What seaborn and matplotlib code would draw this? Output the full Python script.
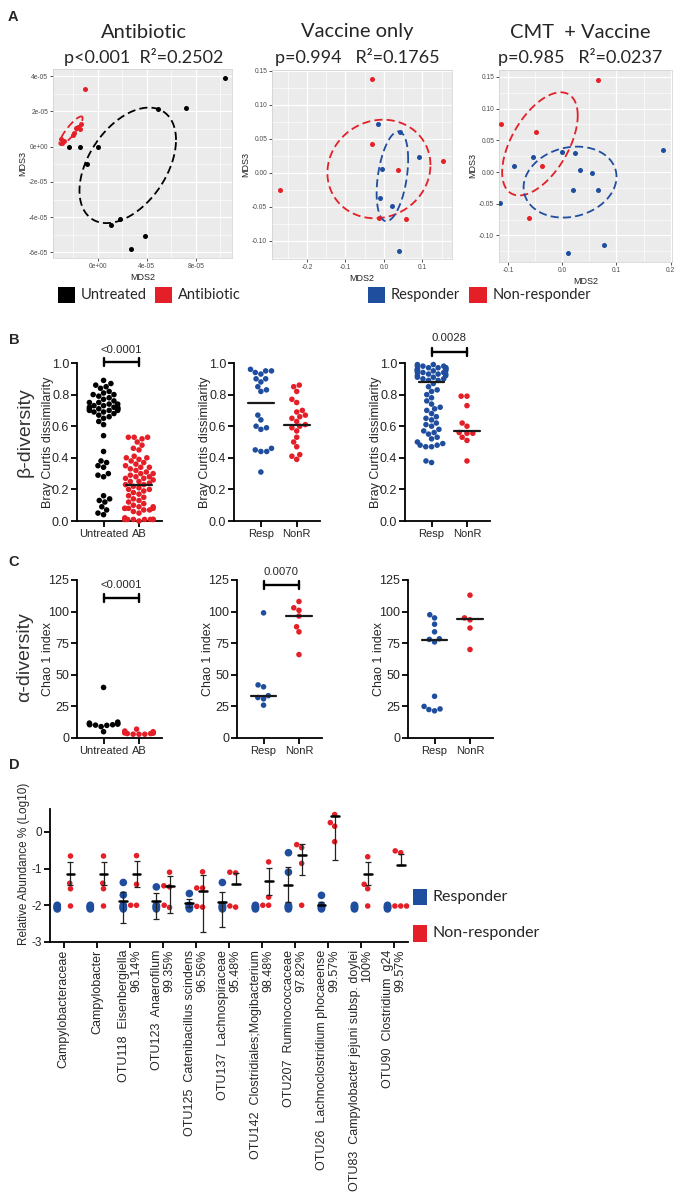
import numpy as np
import pandas as pd
import matplotlib
matplotlib.use("Agg")
import matplotlib.pyplot as plt
import seaborn as sns
from matplotlib.patches import Rectangle

BLACK = "#000000"
RED = "#E41F27"
BLUE = "#1F4E9F"

# ---------------- panel A : MDS ordinations ----------------
A1_untr_x = [1.04e-4, 4.93e-5, 7.18e-5, -2.31e-5, -1.47e-5, 0.0, -0.87e-5, 1.82e-5, 1.12e-5, 3.86e-5, 2.75e-5]
A1_untr_y = [3.92e-5, 2.15e-5, 2.19e-5, 0.0, 0.0, 0.0, -0.98e-5, -4.08e-5, -4.42e-5, -5.09e-5, -5.83e-5]
A1_ab_x = [-1.0e-5, -2.99e-5, -2.94e-5, -2.75e-5, -2.04e-5, -1.77e-5, -1.44e-5, -1.33e-5, -1.63e-5, -1.93e-5]
A1_ab_y = [3.25e-5, 0.42e-5, 0.23e-5, 0.34e-5, 0.66e-5, 1.08e-5, 0.98e-5, 1.28e-5, 1.13e-5, 0.75e-5]
# ellipse: centre x, centre y, half-extent x, half-extent y, correlation
A1_ell_untr = (2.45e-5, -1.06e-5, 3.94e-5, 3.28e-5, 0.44)
A1_ell_ab = (-2.18e-5, 0.91e-5, 0.95e-5, 0.81e-5, 0.88)

A2_nonr_x = [-0.030, -0.030, 0.036, 0.153, -0.271, -0.012, 0.057]
A2_nonr_y = [0.138, 0.042, 0.004, 0.017, -0.026, -0.066, -0.068]
A2_resp_x = [-0.016, 0.043, 0.091, -0.004, -0.010, 0.021, 0.038]
A2_resp_y = [0.071, 0.060, 0.023, 0.006, -0.037, -0.049, -0.115]
A2_ell_nonr = (-0.013, 0.0054, 0.134, 0.0725, 0.08)
A2_ell_resp = (0.022, -0.0054, 0.041, 0.066, 0.38)

A3_nonr_x = [0.0654, -0.1136, -0.0488, -0.037, -0.0623]
A3_nonr_y = [0.145, 0.076, 0.063, 0.0095, -0.0724]
A3_resp_x = [0.186, -0.089, -0.054, -0.001, 0.023, 0.033, 0.055, 0.019, 0.065, -0.116, 0.077, 0.010]
A3_resp_y = [0.035, 0.0095, 0.024, 0.032, 0.030, 0.0026, -0.001, -0.028, -0.028, -0.049, -0.115, -0.128]
A3_ell_nonr = (-0.0414, 0.0444, 0.0698, 0.0814, 0.55)
A3_ell_resp = (0.0142, -0.0159, 0.0858, 0.056, 0.15)

A_titles = ["Antibiotic", "Vaccine only", "CMT  + Vaccine"]
A_stats = ["p<0.001  R²=0.2502", "p=0.994   R²=0.1765", "p=0.985   R²=0.0237"]

# ---------------- panel B : beta diversity ----------------
B1_untr = [0.89, 0.87, 0.86, 0.85, 0.84, 0.82, 0.81, 0.80, 0.80, 0.79, 0.78, 0.77, 0.76, 0.75, 0.75,
           0.74, 0.74, 0.73, 0.73, 0.72, 0.72, 0.72, 0.71, 0.71, 0.71, 0.71, 0.70, 0.70, 0.70, 0.69,
           0.69, 0.68, 0.67, 0.66, 0.65, 0.63, 0.61, 0.54, 0.44, 0.38, 0.37, 0.35, 0.34, 0.30, 0.29,
           0.28, 0.16, 0.14, 0.13, 0.12, 0.09, 0.07, 0.05, 0.04]
B1_ab = [0.53, 0.53, 0.53, 0.52, 0.50, 0.48, 0.46, 0.45, 0.41, 0.40, 0.40, 0.39, 0.38, 0.37, 0.36,
         0.35, 0.34, 0.34, 0.33, 0.32, 0.31, 0.30, 0.30, 0.29, 0.28, 0.28, 0.27, 0.27, 0.26, 0.25,
         0.25, 0.24, 0.23, 0.23, 0.22, 0.21, 0.20, 0.20, 0.19, 0.18, 0.17, 0.16, 0.15, 0.14, 0.13,
         0.12, 0.11, 0.10, 0.09, 0.09, 0.08, 0.08, 0.08, 0.08, 0.07, 0.07, 0.06, 0.05, 0.02, 0.01,
         0.01, 0.01, 0.01, 0.01, 0.01, 0.01, 0.01, 0.00]
B2_resp = [0.96, 0.95, 0.95, 0.94, 0.93, 0.90, 0.90, 0.88, 0.85, 0.83, 0.82, 0.67, 0.64, 0.60, 0.59,
           0.58, 0.46, 0.45, 0.44, 0.44, 0.31]
B2_nonr = [0.86, 0.85, 0.82, 0.77, 0.75, 0.70, 0.69, 0.67, 0.66, 0.65, 0.63, 0.61, 0.60, 0.59, 0.57,
           0.53, 0.50, 0.47, 0.42, 0.41, 0.39]
B3_resp = [0.99, 0.99, 0.98, 0.98, 0.98, 0.97, 0.97, 0.97, 0.97, 0.96, 0.96, 0.96, 0.96, 0.95, 0.95,
           0.95, 0.95, 0.94, 0.94, 0.94, 0.93, 0.93, 0.93, 0.92, 0.92, 0.91, 0.91, 0.90, 0.90, 0.89,
           0.89, 0.87, 0.85, 0.83, 0.82, 0.80, 0.78, 0.76, 0.74, 0.72, 0.71, 0.70, 0.68, 0.66, 0.65,
           0.64, 0.62, 0.61, 0.60, 0.58, 0.57, 0.56, 0.55, 0.53, 0.52, 0.50, 0.49, 0.48, 0.48, 0.47,
           0.47, 0.38, 0.37]
B3_nonr = [0.79, 0.79, 0.73, 0.62, 0.60, 0.56, 0.555, 0.555, 0.53, 0.51, 0.38]
B_medians = [[np.nan, 0.225], [0.75, 0.61], [0.88, 0.57]]

# ---------------- panel C : alpha diversity ----------------
C1_untr = [40, 12.6, 11.8, 11.3, 11, 10.5, 10.2, 10, 10.5, 11, 9, 5]
C1_ab = [7, 5.5, 5, 4.5, 4, 4, 4, 3.5, 3.5, 3, 3, 3]
C2_resp = [99, 42, 40.5, 33.5, 32, 31, 26]
C2_nonr = [108, 103, 101, 96.5, 88, 84, 66]
C3_resp = [97.5, 95, 90, 84, 78.5, 78, 76, 33, 25, 23, 22.5, 21.5]
C3_nonr = [113, 95, 93.5, 87, 70]
C_medians = [[np.nan, np.nan], [33.5, 96.5], [77.5, 94]]

# ---------------- panel D : relative abundance ----------------
D_taxa = ["Campylobacteraceae", "Campylobacter",
          "OTU118  Eisenbergiella\n96.14%", "OTU123  Anaerofilum\n99.35%",
          "OTU125  Catenibacillus scindens\n96.56%", "OTU137  Lachnospiraceae\n95.48%",
          "OTU142  Clostridiales;Mogibacterium\n98.48%", "OTU207  Ruminococcaceae\n97.82%",
          "OTU26  Lachnoclostridium phocaeense\n99.57%",
          "OTU83  Campylobacter jejuni subsp. doylei\n100%", "OTU90  Clostridium  g24\n99.57%"]
D_resp_floor = [-2.0, -2.03, -2.05, -2.07, -2.1]
D_resp_extra = [[], [], [-1.38, -1.72], [-1.5], [-1.68], [-1.38], [], [-0.57, -1.1], [-1.73], [], []]
D_nonr = [[-0.66, -1.40, -1.55, -2.02], [-0.66, -1.40, -1.55, -2.02],
          [-0.65, -1.43, -2.0, -2.0], [-1.1, -1.47, -1.5, -2.06, -2.0],
          [-1.09, -1.53, -1.53, -2.05, -2.03], [-1.1, -1.12, -2.05, -2.02],
          [-0.82, -1.78, -2.0, -2.0], [-0.35, -0.43, -0.86, -2.0],
          [0.47, 0.25, 0.15, -0.27], [-0.68, -1.43, -1.55, -2.02],
          [-0.52, -0.57, -2.02, -2.02, -2.02]]
nan = np.nan
D_resp_mean = [nan, nan, -1.89, -1.89, -1.95, -1.90, nan, -1.44, -2.0, nan, nan]
D_resp_low = [nan, nan, -2.48, -2.38, -2.05, -2.60, nan, -1.91, -2.0, nan, nan]
D_resp_high = [nan, nan, -1.64, -1.66, -1.82, -1.65, nan, -0.97, -1.9, nan, nan]
D_nonr_mean = [-1.14, -1.14, -1.14, -1.47, -1.60, -1.43, -1.35, -0.63, 0.44, -1.14, -0.91]
D_nonr_low = [-1.46, -1.46, -1.49, -2.20, -2.73, -1.43, -1.72, -1.19, -0.78, -1.46, -0.91]
D_nonr_high = [-0.82, -0.82, -0.79, -1.21, -1.18, -1.12, -0.98, -0.34, 0.44, -0.82, -0.60]

# ---------------- figure ----------------
sns.set_theme(style="ticks")
plt.rcParams['font.family'] = ['Liberation Sans', 'DejaVu Sans']

W, H = 685, 1197
fig = plt.figure(figsize=(W / 100, H / 100), dpi=100)


def box(l, t, r, b):
    return fig.add_axes([l / W, 1 - b / H, (r - l) / W, (b - t) / H])


def ftext(x, y, s, **kw):
    fig.text(x / W, 1 - y / H, s, **kw)


def fsquare(l, t, r, b, c):
    fig.add_artist(Rectangle((l / W, 1 - b / H), (r - l) / W, (b - t) / H,
                             transform=fig.transFigure, color=c, lw=0))


def ellipse(ax, params, c):
    cx, cy, sx, sy, rho = params
    t = np.linspace(0, 2 * np.pi, 300)
    ex = cx + sx * np.cos(t)
    ey = cy + sy * (rho * np.cos(t) + np.sqrt(1 - rho ** 2) * np.sin(t))
    ax.plot(ex, ey, color=c, lw=1.3, dashes=(4.5, 2.3), zorder=2)


def mds(ax, groups, xlim, ylim, xt, xtl, xmin, yt, ytl, ymin):
    for xs, ys, ell, c in groups:
        ellipse(ax, ell, c)
        sns.scatterplot(x=xs, y=ys, color=c, s=13, linewidth=0, ax=ax, zorder=3)
    ax.set_facecolor("#EBEBEB")
    ax.set_xlim(xlim)
    ax.set_ylim(ylim)
    ax.set_xticks(xt)
    ax.set_xticklabels(xtl)
    ax.set_xticks(xmin, minor=True)
    ax.set_yticks(yt)
    ax.set_yticklabels(ytl)
    ax.set_yticks(ymin, minor=True)
    ax.grid(which='major', color='white', lw=0.9)
    ax.grid(which='minor', color='white', lw=0.45)
    ax.set_axisbelow(True)
    ax.tick_params(which='major', length=2, width=0.6, color='#333333', labelsize=4.8,
                   labelcolor='#4D4D4D', pad=1.5)
    ax.tick_params(which='minor', length=0)
    for s in ax.spines.values():
        s.set_color('#CFCFCF')
        s.set_linewidth(0.5)
    ax.set_xlabel("MDS2", fontsize=6.5, color='#222222', labelpad=2)
    ax.set_ylabel("MDS3", fontsize=6.5, color='#222222', labelpad=1.5)


yt_a = [-0.10, -0.05, 0.0, 0.05, 0.10, 0.15]
ytl_a = ['-0.10', '-0.05', '0.00', '0.05', '0.10', '0.15']
ymin_a = [-0.125, -0.075, -0.025, 0.025, 0.075, 0.125]

axA1 = box(53, 69, 232, 258)
mds(axA1, [(A1_untr_x, A1_untr_y, A1_ell_untr, BLACK), (A1_ab_x, A1_ab_y, A1_ell_ab, RED)],
    (-3.65e-5, 1.096e-4), (-6.32e-5, 4.41e-5),
    [0, 4e-5, 8e-5], ['0e+00', '4e-05', '8e-05'], [-2e-5, 2e-5, 6e-5, 1e-4],
    [-6e-5, -4e-5, -2e-5, 0, 2e-5, 4e-5], ['-6e-05', '-4e-05', '-2e-05', '0e+00', '2e-05', '4e-05'],
    [-5e-5, -3e-5, -1e-5, 1e-5, 3e-5])
axA2 = box(272, 70, 452, 259)
mds(axA2, [(A2_nonr_x, A2_nonr_y, A2_ell_nonr, RED), (A2_resp_x, A2_resp_y, A2_ell_resp, BLUE)],
    (-0.291, 0.177), (-0.127, 0.151),
    [-0.2, -0.1, 0.0, 0.1], ['-0.2', '-0.1', '0.0', '0.1'], [-0.25, -0.15, -0.05, 0.05, 0.15],
    yt_a, ytl_a, ymin_a)
axA3 = box(499, 70, 672, 262)
mds(axA3, [(A3_nonr_x, A3_nonr_y, A3_ell_nonr, RED), (A3_resp_x, A3_resp_y, A3_ell_resp, BLUE)],
    (-0.117, 0.2025), (-0.142, 0.161),
    [-0.1, 0.0, 0.1, 0.2], ['-0.1', '0.0', '0.1', '0.2'], [-0.05, 0.05, 0.15],
    yt_a, ytl_a, ymin_a)

for xc, t, s in zip([144, 357, 580], A_titles, A_stats):
    ftext(xc, 32, t, ha='center', va='center', fontsize=14.5, family='Lato')
    ftext(xc, 57, s, ha='center', va='center', fontsize=13, family='Lato')

for (l, r, c, lab) in [(58, 75, BLACK, "Untreated"), (155, 172, RED, "Antibiotic"),
                       (368, 385, BLUE, "Responder"), (469, 487, RED, "Non-responder")]:
    fsquare(l, 287, r, 303, c)
    ftext(r + 6, 295, lab, ha='left', va='center', fontsize=10.5, family='Lato')


# ---------------- dot plots B and C ----------------
def dots(ax, groups, cats, colors, meds, ylim, yt, ylabel, bracket=None):
    df = pd.DataFrame({'grp': np.repeat(cats, [len(g) for g in groups]),
                       'val': np.concatenate(groups)})
    sns.swarmplot(data=df, x='grp', y='val', hue='grp', order=cats, hue_order=cats,
                  palette=colors, size=4, linewidth=0, legend=False, ax=ax,
                  clip_on=False, zorder=3)
    for i, m in enumerate(meds):
        if not np.isnan(m):
            ax.plot([i - 0.36, i + 0.36], [m, m], color='#1A1A1A', lw=1.6, zorder=4)
    ax.set_xlim(-0.75, 1.65)
    ax.set_ylim(ylim)
    sns.despine(ax=ax)
    for s in ['left', 'bottom']:
        ax.spines[s].set_linewidth(1.3)
        ax.spines[s].set_color('black')
    ax.tick_params(length=4, width=1.3, color='black', labelsize=9, pad=1.5)
    ax.set_yticks(yt)
    if ylim[1] <= 1.0:
        ax.set_yticklabels([f"{v:.1f}" for v in yt])
    ax.set_xticks([0, 1])
    ax.set_xticklabels(cats, fontsize=8)
    ax.set_xlabel('')
    ax.set_ylabel(ylabel, fontsize=9)
    ax.yaxis.set_label_coords(-0.27, 0.5)
    if bracket is not None:
        yb, ytxt, txt = bracket
        d = (ylim[1] - ylim[0]) * 0.027
        ax.plot([0, 1], [yb, yb], color='black', lw=1.7, clip_on=False)
        for xe in (0, 1):
            ax.plot([xe, xe], [yb - d, yb + d], color='black', lw=1.7, clip_on=False)
        ax.text(0.5, ytxt, txt, ha='center', va='center', fontsize=8.2)


b_yt = [0.0, 0.2, 0.4, 0.6, 0.8, 1.0]
axB1 = box(77, 363, 162, 521)
dots(axB1, [B1_untr, B1_ab], ["Untreated", "AB"], [BLACK, RED], B_medians[0], (0, 1.0), b_yt,
     "Bray Curtis dissimilarity", (1.006, 1.082, "<0.0001"))
axB2 = box(234, 363, 320, 521)
dots(axB2, [B2_resp, B2_nonr], ["Resp", "NonR"], [BLUE, RED], B_medians[1], (0, 1.0), b_yt,
     "Bray Curtis dissimilarity")
axB3 = box(405, 363, 490, 521)
dots(axB3, [B3_resp, B3_nonr], ["Resp", "NonR"], [BLUE, RED], B_medians[2], (0, 1.0), b_yt,
     "Bray Curtis dissimilarity", (1.07, 1.158, "0.0028"))

c_yt = [0, 25, 50, 75, 100, 125]
axC1 = box(77, 580, 162, 738)
dots(axC1, [C1_untr, C1_ab], ["Untreated", "AB"], [BLACK, RED], C_medians[0], (0, 125), c_yt,
     "Chao 1 index", (110.8, 121, "<0.0001"))
axC2 = box(237, 580, 322, 738)
dots(axC2, [C2_resp, C2_nonr], ["Resp", "NonR"], [BLUE, RED], C_medians[1], (0, 125), c_yt,
     "Chao 1 index", (121, 131.3, "0.0070"))
axC3 = box(408, 580, 493, 738)
dots(axC3, [C3_resp, C3_nonr], ["Resp", "NonR"], [BLUE, RED], C_medians[2], (0, 125), c_yt,
     "Chao 1 index")

ftext(25, 432, "β-diversity", rotation=90, ha='center', va='center', fontsize=14, color='#333333')
ftext(25, 657, "α-diversity", rotation=90, ha='center', va='center', fontsize=14, color='#333333')

# ---------------- panel D ----------------
axD = box(50, 809, 408, 942)
hue_levels = ["Responder", "Non-responder"]
resp_rows = [(t, v) for t, ex in zip(D_taxa, D_resp_extra) for v in D_resp_floor + ex]
nonr_rows = [(t, v) for t, vals in zip(D_taxa, D_nonr) for v in vals]
df_resp = pd.DataFrame(resp_rows, columns=['taxon', 'val'])
df_resp['group'] = "Responder"
df_nonr = pd.DataFrame(nonr_rows, columns=['taxon', 'val'])
df_nonr['group'] = "Non-responder"
sns.stripplot(data=df_resp, x='taxon', y='val', hue='group', order=D_taxa, hue_order=hue_levels,
              palette=[BLUE, RED], dodge=True, jitter=False, size=5.5, linewidth=0,
              legend=False, ax=axD, zorder=3, clip_on=False)
sns.swarmplot(data=df_nonr, x='taxon', y='val', hue='group', order=D_taxa, hue_order=hue_levels,
              palette=[BLUE, RED], dodge=True, size=4, linewidth=0,
              legend=False, ax=axD, zorder=3, clip_on=False)

xs = np.arange(len(D_taxa))
for off, means, lows, highs in [(-0.2, D_resp_mean, D_resp_low, D_resp_high),
                                (0.2, D_nonr_mean, D_nonr_low, D_nonr_high)]:
    for xpos, m, lo, hi in zip(xs + off, means, lows, highs):
        if np.isnan(m):
            continue
        axD.errorbar([xpos], [m], yerr=[[m - lo], [hi - m]], fmt='none', ecolor='#222222',
                     elinewidth=0.9, capsize=2.4, capthick=0.9, zorder=4)
        axD.plot([xpos - 0.12, xpos + 0.12], [m, m], color='black', lw=1.8, zorder=5)

axD.set_xlim(-0.42, 10.42)
axD.set_ylim(-3, 0.62)
sns.despine(ax=axD)
for s in ['left', 'bottom']:
    axD.spines[s].set_linewidth(1.3)
    axD.spines[s].set_color('black')
axD.tick_params(length=4, width=1.3, color='black', labelsize=8.5, pad=1.5)
axD.set_yticks([0, -1, -2, -3])
axD.set_yticklabels(['0', '-1', '-2', '-3'])
axD.set_xticks(xs)
axD.set_xticklabels(D_taxa, rotation=90, ha='center', va='top', multialignment='right',
                    fontsize=9, linespacing=1.0)
axD.set_xlabel('')
axD.set_ylabel("Relative Abundance % (Log10)", fontsize=8.5)
axD.yaxis.set_label_coords((30 - 50) / 358, (942 - 864) / 133)

fsquare(413, 889, 427, 905, BLUE)
fsquare(413, 925, 427, 942, RED)
ftext(433, 897, "Responder", ha='left', va='center', fontsize=11.5, family='Lato')
ftext(433, 933, "Non-responder", ha='left', va='center', fontsize=11.5, family='Lato')

# panel letters
for lab, x, y in [("A", 13, 17), ("B", 14, 340), ("C", 14, 562), ("D", 14, 765)]:
    ftext(x, y, lab, ha='center', va='center', fontsize=10.5, fontweight='bold')

fig.savefig("out.png", dpi=100)
